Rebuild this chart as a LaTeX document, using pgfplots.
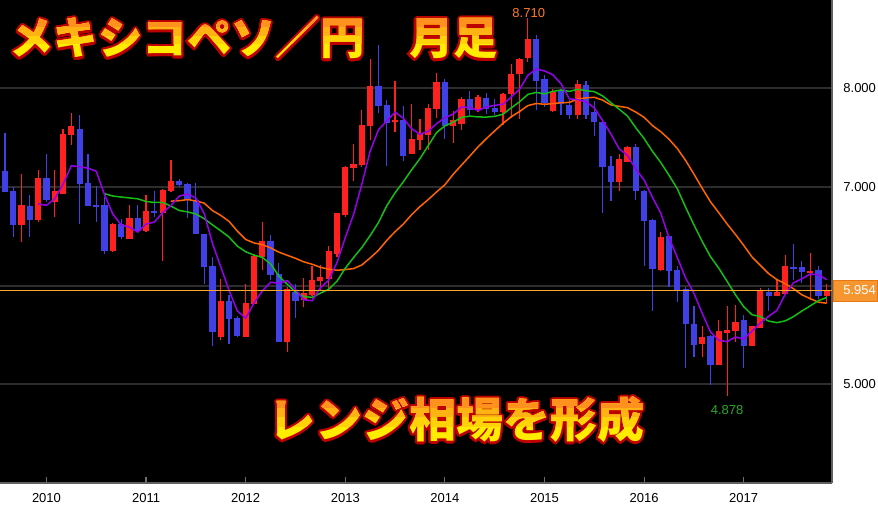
\documentclass[border=0pt]{standalone}
\usepackage{fontspec}
\setmainfont{Liberation Sans}
\newfontfamily\jp{Noto Sans CJK JP}
\usepackage{pgfplots}
\pgfplotsset{compat=1.18}
\usepackage{pgfplotstable}

\definecolor{cred}{RGB}{255,32,32}
\definecolor{cblue}{RGB}{64,64,228}
\definecolor{ma5}{RGB}{150,0,235}
\definecolor{ma13}{RGB}{20,190,20}
\definecolor{ma21}{RGB}{255,100,0}
\definecolor{lastline}{RGB}{255,165,40}
\definecolor{gridc}{RGB}{45,45,45}
\definecolor{axisc}{RGB}{96,96,96}
\definecolor{tickc}{RGB}{110,110,110}
\definecolor{boxc}{RGB}{246,150,48}
\definecolor{boxd}{RGB}{230,120,20}
\definecolor{hic}{RGB}{255,120,40}
\definecolor{loc}{RGB}{40,170,40}
\definecolor{outl}{RGB}{190,0,0}
\definecolor{gA}{RGB}{255,236,0}
\definecolor{gB}{RGB}{255,210,10}
\definecolor{gC}{RGB}{255,178,20}
\definecolor{gD}{RGB}{255,145,30}

% monthly candles, Aug 2009 (i=0) .. Nov 2017 (i=99); SMA 5/13/21 of close
\pgfplotstableread{
i o h l c m5 m13 m21
0 7.159 7.551 6.949 6.949 nan nan nan
1 6.955 7.000 6.493 6.619 nan nan nan
2 6.619 7.135 6.444 6.814 nan nan nan
3 6.804 6.916 6.493 6.669 nan nan nan
4 6.669 7.169 6.645 7.095 6.829 nan nan
5 7.095 7.331 6.848 6.872 6.814 nan nan
6 6.848 7.169 6.696 6.956 6.881 nan nan
7 6.933 7.592 6.926 7.541 7.027 nan nan
8 7.531 7.754 7.429 7.615 7.216 nan nan
9 7.592 7.726 6.629 7.034 7.204 nan nan
10 7.044 7.331 6.804 6.807 7.191 nan nan
11 6.814 7.007 6.645 6.800 7.159 nan nan
12 6.814 6.898 6.325 6.351 6.921 6.932 nan
13 6.351 6.640 6.340 6.629 6.724 6.908 nan
14 6.629 6.679 6.470 6.493 6.616 6.898 nan
15 6.477 6.814 6.477 6.690 6.593 6.889 nan
16 6.690 6.814 6.544 6.554 6.543 6.880 nan
17 6.554 6.916 6.544 6.753 6.624 6.853 nan
18 6.753 6.956 6.696 6.733 6.645 6.843 nan
19 6.736 6.983 6.250 6.966 6.739 6.844 nan
20 6.956 7.277 6.949 7.057 6.813 6.806 6.857
21 7.057 7.085 7.000 7.024 6.907 6.761 6.861
22 7.034 7.044 6.690 6.865 6.929 6.748 6.872
23 6.865 7.044 6.527 6.527 6.888 6.726 6.859
24 6.527 6.527 6.020 6.189 6.732 6.679 6.836
25 6.196 6.290 5.388 5.530 6.427 6.616 6.761
26 5.480 6.071 5.446 5.841 6.190 6.556 6.712
27 5.841 5.902 5.405 5.666 5.951 6.492 6.651
28 5.676 5.690 5.480 5.490 5.743 6.400 6.553
29 5.480 6.020 5.480 5.828 5.671 6.344 6.468
30 5.818 6.325 5.818 6.297 5.824 6.309 6.433
31 6.290 6.645 6.162 6.449 5.946 6.287 6.416
32 6.449 6.510 6.054 6.112 6.035 6.221 6.383
33 6.122 6.230 5.429 5.429 6.023 6.096 6.339
34 5.429 5.987 5.327 5.970 6.051 6.015 6.308
35 5.936 6.020 5.672 5.844 5.961 5.936 6.277
36 5.850 6.080 5.780 5.930 5.857 5.890 6.241
37 5.902 6.196 5.900 6.061 5.847 5.881 6.217
38 6.050 6.206 5.953 6.090 5.979 5.924 6.186
39 6.071 6.399 5.953 6.351 6.055 5.963 6.167
40 6.325 6.736 6.290 6.736 6.234 6.045 6.156
41 6.713 7.210 6.700 7.200 6.488 6.177 6.163
42 7.193 7.432 7.061 7.237 6.723 6.285 6.173
43 7.220 7.777 7.200 7.625 7.030 6.387 6.210
44 7.618 8.300 7.480 8.020 7.364 6.508 6.281
45 8.020 8.436 7.750 7.820 7.580 6.640 6.358
46 7.827 7.885 7.210 7.648 7.670 6.810 6.459
47 7.655 8.070 7.557 7.676 7.758 6.941 6.547
48 7.676 7.818 7.263 7.314 7.696 7.054 6.625
49 7.331 7.845 7.330 7.490 7.590 7.175 6.720
50 7.480 7.693 7.370 7.540 7.534 7.288 6.802
51 7.530 7.845 7.370 7.800 7.564 7.420 6.873
52 7.794 8.160 7.700 8.064 7.642 7.552 6.950
53 8.064 8.098 7.490 7.615 7.702 7.619 7.022
54 7.615 7.767 7.446 7.676 7.739 7.656 7.129
55 7.642 7.910 7.580 7.896 7.810 7.706 7.221
56 7.896 7.970 7.726 7.777 7.806 7.718 7.313
57 7.794 7.935 7.760 7.912 7.775 7.710 7.407
58 7.905 7.950 7.740 7.794 7.811 7.708 7.490
59 7.800 7.896 7.726 7.760 7.828 7.716 7.569
60 7.760 7.950 7.625 7.946 7.838 7.737 7.645
61 7.946 8.250 7.700 8.149 7.912 7.802 7.712
62 8.142 8.310 7.693 8.300 7.990 7.864 7.765
63 8.310 8.710 8.267 8.504 8.132 7.938 7.825
64 8.504 8.544 7.777 8.074 8.195 7.959 7.846
65 8.098 8.130 7.810 7.851 8.176 7.943 7.838
66 7.770 7.997 7.760 7.963 8.138 7.969 7.845
67 7.980 7.997 7.726 7.838 8.046 7.982 7.854
68 7.828 7.885 7.693 7.733 7.892 7.969 7.857
69 7.733 8.081 7.693 8.047 7.886 7.990 7.892
70 8.030 8.074 7.693 7.733 7.863 7.976 7.903
71 7.760 7.868 7.517 7.658 7.802 7.966 7.909
72 7.658 7.658 6.736 7.200 7.674 7.923 7.880
73 7.210 7.310 6.858 7.050 7.538 7.854 7.832
74 7.050 7.338 6.960 7.287 7.386 7.788 7.817
75 7.253 7.420 7.253 7.405 7.320 7.719 7.804
76 7.405 7.440 6.872 6.959 7.180 7.600 7.759
77 6.959 6.966 6.199 6.655 7.071 7.491 7.706
78 6.669 6.680 5.743 6.173 6.896 7.362 7.623
79 6.162 6.544 6.149 6.493 6.737 7.249 7.561
80 6.500 6.500 5.987 6.149 6.486 7.119 7.484
81 6.162 6.196 5.835 5.960 6.286 6.982 7.390
82 5.970 5.987 5.169 5.615 6.078 6.795 7.269
83 5.615 5.790 5.277 5.400 5.923 6.616 7.131
84 5.413 5.588 5.280 5.480 5.721 6.448 6.987
85 5.487 5.497 4.997 5.193 5.530 6.294 6.850
86 5.193 5.649 5.193 5.537 5.445 6.177 6.739
87 5.524 5.790 4.878 5.555 5.433 6.044 6.625
88 5.537 5.800 5.429 5.632 5.479 5.908 6.520
89 5.656 5.700 5.169 5.385 5.460 5.787 6.408
90 5.390 5.590 5.390 5.588 5.539 5.705 6.291
91 5.575 5.980 5.575 5.946 5.621 5.687 6.206
92 5.933 5.980 5.743 5.895 5.689 5.641 6.122
93 5.895 6.071 5.895 5.933 5.749 5.625 6.061
94 5.912 6.314 5.912 6.199 5.912 5.643 6.021
95 6.186 6.426 6.054 6.173 6.029 5.686 5.968
96 6.189 6.247 6.027 6.140 6.068 5.743 5.908
97 6.128 6.330 5.851 6.145 6.118 5.794 5.869
98 6.160 6.196 5.862 5.895 6.110 5.848 5.833
99 5.900 6.020 5.828 5.954 6.061 5.880 5.822
}\mxn

\newcommand{\gl}[5]{%
  \node[anchor=base west, inner sep=0pt, text=#5,
        font=\jp\bfseries\fontsize{#3}{#3}\selectfont] at (#1,#2) {#4};}
% outlined text with a rough orange-to-yellow fill
\newcommand{\glow}[4]{%
  \foreach \a in {0,22.5,...,337.5}{
    \node[anchor=base west, inner sep=0pt, text=outl,
          font=\jp\bfseries\fontsize{#3}{#3}\selectfont]
      at ([shift={(\a:1.1pt)}]#1,#2) {#4};}
  \gl{#1}{#2}{#3}{#4}{gA}
  \begin{scope}\clip ({#1-5pt},{#2+0.25*#3pt}) rectangle ({#1+500pt},{#2+2*#3pt});
    \gl{#1}{#2}{#3}{#4}{gB}\end{scope}
  \begin{scope}\clip ({#1-5pt},{#2+0.45*#3pt}) rectangle ({#1+500pt},{#2+2*#3pt});
    \gl{#1}{#2}{#3}{#4}{gC}\end{scope}
  \begin{scope}\clip ({#1-5pt},{#2+0.65*#3pt}) rectangle ({#1+500pt},{#2+2*#3pt});
    \gl{#1}{#2}{#3}{#4}{gD}\end{scope}
}

\begin{document}
\begin{tikzpicture}
\begin{axis}[
  set layers,
  scale only axis, width=416pt, height=241.5pt,
  at={(0,0)}, anchor=south west,
  xmin=-0.6, xmax=99.64, ymin=4.0, ymax=8.895,
  axis background/.style={fill=black},
  axis x line*=bottom, axis y line*=right,
  axis line style={draw=axisc, line width=1pt},
  clip=false,
  xtick={5,17,29,41,53,65,77,89},
  xticklabels={2010,2011,2012,2013,2014,2015,2016,2017},
  ytick={5,6,7,8}, yticklabels={5.000,,7.000,8.000},
  ymajorgrids, grid style={gridc, line width=1pt},
  tick align=inside, major tick length=3pt,
  xtick style={draw=tickc, line width=0.6pt},
  ytick style={draw=none},
  tick label style={font=\fontsize{6.5}{7}\selectfont, text=black},
  xticklabel style={anchor=north, inner sep=0pt, yshift=-5pt},
  yticklabel style={anchor=west, inner sep=0pt, xshift=5.5pt},
]
% wicks
\addplot[draw=none, mark=none, forget plot,
  error bars/.cd, y dir=plus, y explicit, error mark=none,
  error bar style={draw=cred, line width=0.6pt}]
  table[x expr={\thisrow{c}>=\thisrow{o} ? \thisrow{i} : nan}, y=l,
        y error expr={\thisrow{h}-\thisrow{l}}] {\mxn};
\addplot[draw=none, mark=none, forget plot,
  error bars/.cd, y dir=plus, y explicit, error mark=none,
  error bar style={draw=cblue, line width=0.6pt}]
  table[x expr={\thisrow{c}<\thisrow{o} ? \thisrow{i} : nan}, y=l,
        y error expr={\thisrow{h}-\thisrow{l}}] {\mxn};
% bodies
\addplot[draw=none, mark=none, forget plot,
  error bars/.cd, y dir=plus, y explicit, error mark=none,
  error bar style={draw=cred, line width=3.1pt}]
  table[x expr={\thisrow{c}>=\thisrow{o} ? \thisrow{i} : nan}, y=o,
        y error expr={\thisrow{c}-\thisrow{o}}] {\mxn};
\addplot[draw=none, mark=none, forget plot,
  error bars/.cd, y dir=plus, y explicit, error mark=none,
  error bar style={draw=cblue, line width=3.1pt}]
  table[x expr={\thisrow{c}<\thisrow{o} ? \thisrow{i} : nan}, y=c,
        y error expr={\thisrow{o}-\thisrow{c}}] {\mxn};
% moving averages, above the candles
\addplot[on layer=axis foreground, ma21, line width=0.75pt, mark=none] table[x=i, y=m21] {\mxn};
\addplot[on layer=axis foreground, ma13, line width=0.75pt, mark=none] table[x=i, y=m13] {\mxn};
\addplot[on layer=axis foreground, ma5, line width=0.75pt, mark=none] table[x=i, y=m5] {\mxn};
% last price line
\addplot[on layer=axis foreground, lastline, line width=0.6pt, mark=none] coordinates {(-0.6,5.954) (99.64,5.954)};

\node[text=hic, font=\fontsize{6.5}{7}\selectfont] at (axis cs:63.1,8.768) {8.710};
\node[text=loc, font=\fontsize{6.5}{7}\selectfont] at (axis cs:87,4.740) {4.878};
\draw[fill=boxc, draw=boxd, line width=0.5pt]
  (axis cs:99.76,5.844) rectangle (axis cs:105.06,6.057);
\node[anchor=west, inner sep=0pt, text=white, font=\fontsize{6.5}{7}\selectfont]
  at (axis cs:100.96,5.954) {5.954};
\end{axis}

\glow{4.5pt}{214pt}{22.2}{メキシコペソ／円　月足}
\glow{134pt}{22.6pt}{23.5}{レンジ相場を形成}

\pgfresetboundingbox
\useasboundingbox (0,-13pt) rectangle (439pt,241.5pt);
\end{tikzpicture}
\end{document}
